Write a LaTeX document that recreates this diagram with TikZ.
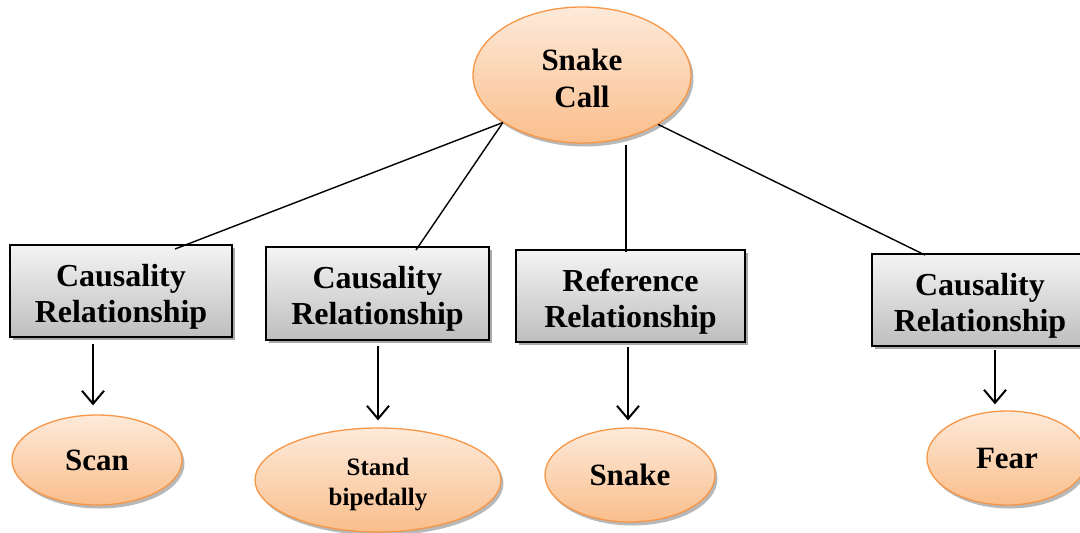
\documentclass[tikz,border=0pt]{standalone}
\usepackage{fontspec}
\setmainfont{Liberation Serif}
\usetikzlibrary{shapes.geometric,arrows.meta,shadows}

\definecolor{ovalline}{RGB}{247,150,70}
\definecolor{ovaltop}{RGB}{253,234,218}
\definecolor{ovalbottom}{RGB}{250,190,140}
\definecolor{boxtop}{RGB}{244,244,244}
\definecolor{boxbottom}{RGB}{190,190,190}

\tikzset{
  oval/.style={ellipse, draw=ovalline, line width=1.3pt,
    top color=ovaltop, bottom color=ovalbottom,
    drop shadow={shadow xshift=2.5pt, shadow yshift=-3.5pt, fill=gray!70, opacity=0.8},
    inner sep=0pt, align=center, text=black,
    font=\fontsize{31}{37}\selectfont\bfseries},
  relbox/.style={rectangle, draw=black, line width=1.5pt,
    top color=boxtop, bottom color=boxbottom,
    drop shadow={shadow xshift=3pt, shadow yshift=-3pt, fill=gray!75, opacity=0.9},
    inner sep=0pt, align=center,
    font=\fontsize{32}{36}\selectfont\bfseries},
  link/.style={line width=1.4pt},
  arr/.style={line width=2pt, -{Straight Barb[length=13pt,width=22pt,line width=2pt]}}
}
% extra height above the first line lowers a text block inside its node
\newcommand{\lowerby}[1]{\rule{0pt}{#1}}

\begin{document}
\begin{tikzpicture}[x=1pt,y=-1pt]
\useasboundingbox (0,0) rectangle (1080,533);
\clip (0,0) rectangle (1080,533);

% root node
\node[oval, minimum width=218pt, minimum height=136pt] (root) at (582,75) {\lowerby{28pt}Snake\\Call};

% relationship boxes
\node[relbox, minimum width=222pt, minimum height=92pt] (b1) at (121,291) {\lowerby{33pt}Causality\\Relationship};
\node[relbox, minimum width=223pt, minimum height=93pt] (b2) at (377.5,293.5) {\lowerby{33pt}Causality\\Relationship};
\node[relbox, minimum width=229pt, minimum height=92pt] (b3) at (630.5,296) {\lowerby{33pt}Reference\\Relationship};
\node[relbox, minimum width=216pt, minimum height=92pt] (b4) at (980,300) {\lowerby{33pt}Causality\\Relationship};

% ends of the root connectors, just inside the top edge of each box
\coordinate (r1) at (175,249);
\coordinate (r2) at (416,250);
\coordinate (r3) at (626,252);
\coordinate (r4) at (925,255);
\coordinate (s3) at (626,145);

% connectors from the root to the relationship boxes
\draw[link] (root.211) -- (r1);
\draw[link] (root.211) -- (r2);
\draw[link] (s3) -- (r3);
\draw[link] (root.327) -- (r4);

% leaf nodes
\node[oval, minimum width=170pt, minimum height=90pt] (scan) at (97,460) {Scan};
\node[oval, minimum width=246pt, minimum height=104pt, font=\fontsize{25}{30}\selectfont\bfseries] (stand) at (378,480) {\lowerby{26pt}Stand\\bipedally};
\node[oval, minimum width=170pt, minimum height=94pt] (snake) at (630,475) {Snake};
\node[oval, minimum width=160pt, minimum height=94pt] (fear) at (1007,458) {Fear};

% arrows from boxes to leaves
\draw[arr, shorten <=6pt, shorten >=9pt] ([xshift=-28pt]b1.south) -- ([xshift=-28pt]b1.south |- scan.north);
\draw[arr, shorten <=5pt, shorten >=7pt] ([xshift=0.5pt]b2.south) -- ([xshift=0.5pt]b2.south |- stand.north);
\draw[arr, shorten <=4pt, shorten >=7pt] ([xshift=-2.5pt]b3.south) -- ([xshift=-2.5pt]b3.south |- snake.north);
\draw[arr, shorten <=3pt, shorten >=6pt] ([xshift=15pt]b4.south) -- ([xshift=15pt]b4.south |- fear.north);
\end{tikzpicture}
\end{document}
